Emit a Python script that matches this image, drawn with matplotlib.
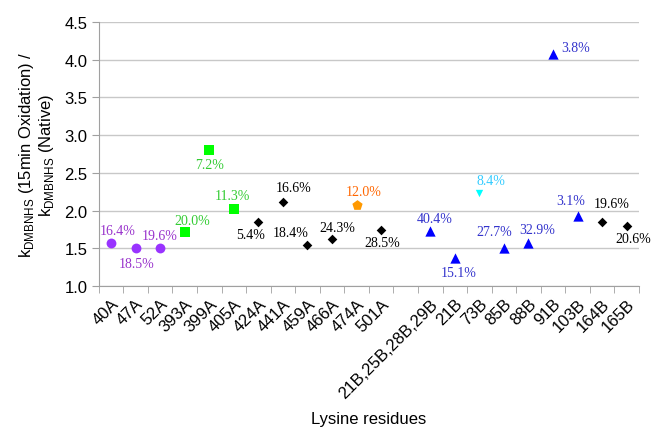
import matplotlib
matplotlib.use("Agg")
import matplotlib.pyplot as plt
from matplotlib.ticker import FixedLocator, NullFormatter

plt.rcParams["font.family"] = "Liberation Sans"
plt.rcParams["mathtext.fontset"] = "custom"
plt.rcParams["mathtext.rm"] = "Liberation Sans"

# categories (blank slot between the A and B residues)
residues = ["40A", "47A", "52A", "393A", "399A", "405A", "424A", "441A", "459A",
            "466A", "474A", "501A", "", "21B,25B,28B,29B", "21B", "73B", "85B",
            "88B", "91B", "103B", "164B", "165B"]
ratio = [1.57, 1.50, 1.50, 1.72, 2.81, 2.02, 1.85, 2.12, 1.54, 1.62, 2.07, 1.75,
         None, 1.73, 1.37, 2.24, 1.50, 1.57, 4.07, 1.93, 1.85, 1.80]
pct = ["16.4%", "18.5%", "19.6%", "20.0%", "7.2%", "11.3%", "5.4%", "16.6%",
       "18.4%", "24.3%", "12.0%", "28.5%", "", "40.4%", "15.1%", "8.4%", "27.7%",
       "32.9%", "3.8%", "3.1%", "19.6%", "20.6%"]
group = ["p", "p", "p", "g", "g", "g", "k", "k", "k", "k", "o", "k", "",
         "b", "b", "c", "b", "b", "b", "b", "k", "k"]

# label offsets in pixels from the marker
offs = [(7, 13), (1, -15), (0, 13), (8, 11), (0, -15), (-1, 14), (-8, -13),
        (11, 14), (-17, 13), (5, 12), (7, 14), (1, -13), (0, 0), (4, 13),
        (4, -14), (12, 12), (-10, 17), (9, 14), (23, 7), (-7, 15), (10, 18),
        (7, -13)]

STYLE = {
    "p": dict(marker="o", color="#9933ff", s=50, text="#9933cc"),
    "g": dict(marker="s", color="#00ff00", s=55, text="#33cc33"),
    "k": dict(marker="D", color="#000000", s=24, text="#000000"),
    "o": dict(marker="p", color="#ff9900", s=60, text="#ff6600"),
    "b": dict(marker="^", color="#0000ff", s=55, text="#3333cc"),
    "c": dict(marker="v", color="#00ffff", s=28, text="#33ccff"),
}

fig = plt.figure(figsize=(6.54, 4.35), dpi=100)
ax = fig.add_axes([0.151, 0.340, 0.826, 0.607])

for key, st in STYLE.items():
    xs = [i for i, g in enumerate(group) if g == key]
    ys = [ratio[i] for i in xs]
    ax.scatter(xs, ys, marker=st["marker"], s=st["s"], color=st["color"],
               linewidths=0, zorder=3)
    for i in xs:
        ax.annotate(pct[i], (i, ratio[i]), xytext=offs[i],
                    textcoords="offset pixels", ha="center", va="center",
                    fontsize=10, family="Liberation Serif", color=st["text"])

ax.set_xlim(-0.5, len(residues) - 0.5)
ax.set_ylim(1.0, 4.5)
ax.set_yticks([1.0, 1.5, 2.0, 2.5, 3.0, 3.5, 4.0, 4.5])
ax.set_yticklabels([f"{v:.1f}" for v in ax.get_yticks()])
ax.set_xticks(range(len(residues)))
ax.set_xticklabels(residues, rotation=45, ha="right", rotation_mode="anchor")
ax.xaxis.set_minor_locator(FixedLocator([i - 0.5 for i in range(len(residues) + 1)]))
ax.xaxis.set_minor_formatter(NullFormatter())
ax.tick_params(axis="x", which="major", length=0, labelsize=12, pad=7)
ax.tick_params(axis="x", which="minor", length=5, color="#a0a0a0")
ax.tick_params(axis="y", length=5, color="#a0a0a0", labelsize=12, pad=3)

ax.grid(True, axis="y", color="#c8c8c8", linewidth=1)
ax.set_axisbelow(True)
for side in ("top", "right"):
    ax.spines[side].set_visible(False)
for side in ("left", "bottom"):
    ax.spines[side].set_color("#a0a0a0")

ax.set_xlabel("Lysine residues", fontsize=12, labelpad=8)
ax.set_ylabel("k$_\\mathrm{DMBNHS}$ (15min Oxidation) /\nk$_\\mathrm{DMBNHS}$ (Native)",
              fontsize=12, linespacing=1.05, labelpad=6)

fig.savefig("out.png", dpi=100)
